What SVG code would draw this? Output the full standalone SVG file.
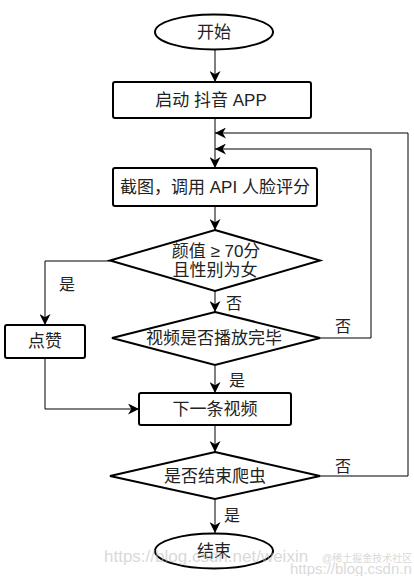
<svg xmlns="http://www.w3.org/2000/svg" width="414" height="576" viewBox="0 0 414 576">
<defs>
<style>
.n{fill:#fff;stroke:#000;stroke-width:2}
.t{font-family:"Liberation Sans","Noto Sans CJK SC",sans-serif;font-size:17px;fill:#222;text-anchor:middle;dominant-baseline:central}
.l{font-family:"Liberation Sans","Noto Sans CJK SC",sans-serif;font-size:16px;fill:#222;text-anchor:middle;dominant-baseline:central}
.c{fill:none;stroke:#000;stroke-width:1}
.w{font-family:"Liberation Sans","Noto Sans CJK SC",sans-serif;fill:#bbb;opacity:0.55}
</style>
<marker id="a" viewBox="0 0 10 10" refX="10" refY="5" markerWidth="11" markerHeight="11" markerUnits="userSpaceOnUse" orient="auto">
<path d="M0,0 L10,5 L0,10 L3,5 Z" fill="#000"/>
</marker>
</defs>
<rect width="414" height="576" fill="#fff"/>
<g id="connectors">
<path class="c" d="M215,50 V82" marker-end="url(#a)"/>
<path class="c" d="M215,118 V168" marker-end="url(#a)"/>
<path class="c" d="M215,206 V230" marker-end="url(#a)"/>
<path class="c" d="M110,261 H45 V325" marker-end="url(#a)"/>
<path class="c" d="M215,290 V312" marker-end="url(#a)"/>
<path class="c" d="M320,338 H371 V149 H215" marker-end="url(#a)"/>
<path class="c" d="M215,366 V393" marker-end="url(#a)"/>
<path class="c" d="M45,358 V409 H139" marker-end="url(#a)"/>
<path class="c" d="M215,425 V452" marker-end="url(#a)"/>
<path class="c" d="M320,476 H408 V133 H215" marker-end="url(#a)"/>
<path class="c" d="M215,499 V533" marker-end="url(#a)"/>
<text class="l" x="67" y="284">是</text>
<text class="l" x="234" y="303">否</text>
<text class="l" x="343" y="326">否</text>
<text class="l" x="237" y="380">是</text>
<text class="l" x="343" y="466">否</text>
<text class="l" x="232" y="515">是</text>
</g>
<g id="start"><ellipse class="n" cx="214" cy="32" rx="59" ry="17.5"/><text class="t" x="214" y="32">开始</text></g>
<g id="launch"><rect class="n" x="113" y="82" width="198" height="36" rx="2"/><text class="t" x="211" y="100">启动 抖音 APP</text></g>
<g id="capture"><rect class="n" x="113" y="168" width="204" height="38" rx="2"/><text class="t" x="215" y="187">截图，调用 API 人脸评分</text></g>
<g id="decide1"><path class="n" d="M215,230 L320,260.5 L215,291 L110,260.5 Z"/><text class="t" x="216" y="251">颜值 ≥ 70分</text><text class="t" x="215" y="270">且性别为女</text></g>
<g id="like"><rect class="n" x="5" y="325" width="80" height="33" rx="2"/><text class="t" x="45" y="341">点赞</text></g>
<g id="decide2"><path class="n" d="M215,312 L320,338 L215,365 L112,338 Z"/><text class="t" x="214" y="338">视频是否播放完毕</text></g>
<g id="next"><rect class="n" x="139" y="393" width="152" height="32" rx="2"/><text class="t" x="215" y="409">下一条视频</text></g>
<g id="decide3"><path class="n" d="M215,452 L320,476 L215,499 L110,476 Z"/><text class="t" x="215" y="476">是否结束爬虫</text></g>
<g id="end"><ellipse class="n" cx="214" cy="551" rx="59" ry="17.5"/><text class="t" x="214" y="551">结束</text></g>
<text class="w" x="104" y="562" font-size="17">https://blog.csdn.net/weixin</text>
<text class="w" x="322" y="562" font-size="10" fill="#999">@稀土掘金技术社区</text>
<text class="w" x="290" y="574" font-size="15">https://blog.csdn.n</text>
</svg>
